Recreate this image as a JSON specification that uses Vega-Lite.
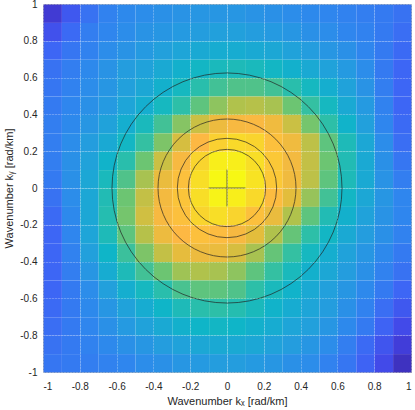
{
  "$schema": "https://vega.github.io/schema/vega-lite/v6.json",
  "width": 368,
  "height": 368,
  "autosize": {"type": "none"},
  "padding": {"left": 43, "top": 4, "right": 4, "bottom": 38},
  "background": "#ffffff",
  "config": {
    "view": {"stroke": "#a6a6a6", "strokeWidth": 1},
    "font": "Liberation Sans",
    "axis": {
      "labelFont": "Liberation Sans",
      "labelFontSize": 10,
      "labelColor": "#262626",
      "titleFont": "Liberation Sans",
      "titleFontSize": 11,
      "titleFontWeight": "normal",
      "titleColor": "#262626",
      "domain": false,
      "ticks": false,
      "grid": true,
      "gridColor": "#ffffff",
      "gridOpacity": 0.5,
      "gridDash": [1, 2],
      "gridWidth": 0.8
    }
  },
  "datasets": {
    "rings": [{"r": 0.21}, {"r": 0.27}, {"r": 0.375}, {"r": 0.625}],
    "cross": [
      {"xa": -0.1, "xb": 0.1, "ya": 0, "yb": 0},
      {"xa": 0, "xb": 0, "ya": -0.1, "yb": 0.1}
    ],
    "grid": [
{"kx":-0.95,"ky":0.95,"p":0.07},{"kx":-0.85,"ky":0.95,"p":0.16},{"kx":-0.75,"ky":0.95,"p":0.23},{"kx":-0.65,"ky":0.95,"p":0.27},{"kx":-0.55,"ky":0.95,"p":0.29},{"kx":-0.45,"ky":0.95,"p":0.3},{"kx":-0.35,"ky":0.95,"p":0.31},{"kx":-0.25,"ky":0.95,"p":0.32},{"kx":-0.15,"ky":0.95,"p":0.33},{"kx":-0.05,"ky":0.95,"p":0.33},{"kx":0.05,"ky":0.95,"p":0.33},{"kx":0.15,"ky":0.95,"p":0.32},{"kx":0.25,"ky":0.95,"p":0.31},{"kx":0.35,"ky":0.95,"p":0.3},{"kx":0.45,"ky":0.95,"p":0.29},{"kx":0.55,"ky":0.95,"p":0.28},{"kx":0.65,"ky":0.95,"p":0.27},{"kx":0.75,"ky":0.95,"p":0.26},{"kx":0.85,"ky":0.95,"p":0.25},{"kx":0.95,"ky":0.95,"p":0.23},
{"kx":-0.95,"ky":0.85,"p":0.14},{"kx":-0.85,"ky":0.85,"p":0.21},{"kx":-0.75,"ky":0.85,"p":0.26},{"kx":-0.65,"ky":0.85,"p":0.28},{"kx":-0.55,"ky":0.85,"p":0.3},{"kx":-0.45,"ky":0.85,"p":0.32},{"kx":-0.35,"ky":0.85,"p":0.33},{"kx":-0.25,"ky":0.85,"p":0.34},{"kx":-0.15,"ky":0.85,"p":0.35},{"kx":-0.05,"ky":0.85,"p":0.36},{"kx":0.05,"ky":0.85,"p":0.36},{"kx":0.15,"ky":0.85,"p":0.35},{"kx":0.25,"ky":0.85,"p":0.34},{"kx":0.35,"ky":0.85,"p":0.33},{"kx":0.45,"ky":0.85,"p":0.31},{"kx":0.55,"ky":0.85,"p":0.3},{"kx":0.65,"ky":0.85,"p":0.28},{"kx":0.75,"ky":0.85,"p":0.27},{"kx":0.85,"ky":0.85,"p":0.25},{"kx":0.95,"ky":0.85,"p":0.22},
{"kx":-0.95,"ky":0.75,"p":0.2},{"kx":-0.85,"ky":0.75,"p":0.24},{"kx":-0.75,"ky":0.75,"p":0.27},{"kx":-0.65,"ky":0.75,"p":0.3},{"kx":-0.55,"ky":0.75,"p":0.32},{"kx":-0.45,"ky":0.75,"p":0.34},{"kx":-0.35,"ky":0.75,"p":0.36},{"kx":-0.25,"ky":0.75,"p":0.38},{"kx":-0.15,"ky":0.75,"p":0.4},{"kx":-0.05,"ky":0.75,"p":0.41},{"kx":0.05,"ky":0.75,"p":0.41},{"kx":0.15,"ky":0.75,"p":0.4},{"kx":0.25,"ky":0.75,"p":0.39},{"kx":0.35,"ky":0.75,"p":0.37},{"kx":0.45,"ky":0.75,"p":0.35},{"kx":0.55,"ky":0.75,"p":0.33},{"kx":0.65,"ky":0.75,"p":0.31},{"kx":0.75,"ky":0.75,"p":0.28},{"kx":0.85,"ky":0.75,"p":0.25},{"kx":0.95,"ky":0.75,"p":0.21},
{"kx":-0.95,"ky":0.65,"p":0.23},{"kx":-0.85,"ky":0.65,"p":0.26},{"kx":-0.75,"ky":0.65,"p":0.29},{"kx":-0.65,"ky":0.65,"p":0.32},{"kx":-0.55,"ky":0.65,"p":0.35},{"kx":-0.45,"ky":0.65,"p":0.37},{"kx":-0.35,"ky":0.65,"p":0.4},{"kx":-0.25,"ky":0.65,"p":0.43},{"kx":-0.15,"ky":0.65,"p":0.46},{"kx":-0.05,"ky":0.65,"p":0.48},{"kx":0.05,"ky":0.65,"p":0.49},{"kx":0.15,"ky":0.65,"p":0.48},{"kx":0.25,"ky":0.65,"p":0.46},{"kx":0.35,"ky":0.65,"p":0.43},{"kx":0.45,"ky":0.65,"p":0.4},{"kx":0.55,"ky":0.65,"p":0.37},{"kx":0.65,"ky":0.65,"p":0.34},{"kx":0.75,"ky":0.65,"p":0.3},{"kx":0.85,"ky":0.65,"p":0.25},{"kx":0.95,"ky":0.65,"p":0.2},
{"kx":-0.95,"ky":0.55,"p":0.24},{"kx":-0.85,"ky":0.55,"p":0.27},{"kx":-0.75,"ky":0.55,"p":0.3},{"kx":-0.65,"ky":0.55,"p":0.33},{"kx":-0.55,"ky":0.55,"p":0.36},{"kx":-0.45,"ky":0.55,"p":0.39},{"kx":-0.35,"ky":0.55,"p":0.43},{"kx":-0.25,"ky":0.55,"p":0.47},{"kx":-0.15,"ky":0.55,"p":0.52},{"kx":-0.05,"ky":0.55,"p":0.56},{"kx":0.05,"ky":0.55,"p":0.58},{"kx":0.15,"ky":0.55,"p":0.58},{"kx":0.25,"ky":0.55,"p":0.56},{"kx":0.35,"ky":0.55,"p":0.52},{"kx":0.45,"ky":0.55,"p":0.47},{"kx":0.55,"ky":0.55,"p":0.42},{"kx":0.65,"ky":0.55,"p":0.37},{"kx":0.75,"ky":0.55,"p":0.32},{"kx":0.85,"ky":0.55,"p":0.26},{"kx":0.95,"ky":0.55,"p":0.2},
{"kx":-0.95,"ky":0.45,"p":0.25},{"kx":-0.85,"ky":0.45,"p":0.28},{"kx":-0.75,"ky":0.45,"p":0.31},{"kx":-0.65,"ky":0.45,"p":0.34},{"kx":-0.55,"ky":0.45,"p":0.38},{"kx":-0.45,"ky":0.45,"p":0.42},{"kx":-0.35,"ky":0.45,"p":0.47},{"kx":-0.25,"ky":0.45,"p":0.53},{"kx":-0.15,"ky":0.45,"p":0.6},{"kx":-0.05,"ky":0.45,"p":0.66},{"kx":0.05,"ky":0.45,"p":0.7},{"kx":0.15,"ky":0.45,"p":0.71},{"kx":0.25,"ky":0.45,"p":0.69},{"kx":0.35,"ky":0.45,"p":0.62},{"kx":0.45,"ky":0.45,"p":0.54},{"kx":0.55,"ky":0.45,"p":0.47},{"kx":0.65,"ky":0.45,"p":0.4},{"kx":0.75,"ky":0.45,"p":0.34},{"kx":0.85,"ky":0.45,"p":0.27},{"kx":0.95,"ky":0.45,"p":0.2},
{"kx":-0.95,"ky":0.35,"p":0.26},{"kx":-0.85,"ky":0.35,"p":0.29},{"kx":-0.75,"ky":0.35,"p":0.33},{"kx":-0.65,"ky":0.35,"p":0.37},{"kx":-0.55,"ky":0.35,"p":0.42},{"kx":-0.45,"ky":0.35,"p":0.48},{"kx":-0.35,"ky":0.35,"p":0.56},{"kx":-0.25,"ky":0.35,"p":0.65},{"kx":-0.15,"ky":0.35,"p":0.74},{"kx":-0.05,"ky":0.35,"p":0.81},{"kx":0.05,"ky":0.35,"p":0.84},{"kx":0.15,"ky":0.35,"p":0.85},{"kx":0.25,"ky":0.35,"p":0.82},{"kx":0.35,"ky":0.35,"p":0.74},{"kx":0.45,"ky":0.35,"p":0.63},{"kx":0.55,"ky":0.35,"p":0.53},{"kx":0.65,"ky":0.35,"p":0.44},{"kx":0.75,"ky":0.35,"p":0.36},{"kx":0.85,"ky":0.35,"p":0.28},{"kx":0.95,"ky":0.35,"p":0.21},
{"kx":-0.95,"ky":0.25,"p":0.26},{"kx":-0.85,"ky":0.25,"p":0.3},{"kx":-0.75,"ky":0.25,"p":0.35},{"kx":-0.65,"ky":0.25,"p":0.4},{"kx":-0.55,"ky":0.25,"p":0.46},{"kx":-0.45,"ky":0.25,"p":0.54},{"kx":-0.35,"ky":0.25,"p":0.64},{"kx":-0.25,"ky":0.25,"p":0.76},{"kx":-0.15,"ky":0.25,"p":0.86},{"kx":-0.05,"ky":0.25,"p":0.92},{"kx":0.05,"ky":0.25,"p":0.94},{"kx":0.15,"ky":0.25,"p":0.93},{"kx":0.25,"ky":0.25,"p":0.88},{"kx":0.35,"ky":0.25,"p":0.82},{"kx":0.45,"ky":0.25,"p":0.72},{"kx":0.55,"ky":0.25,"p":0.6},{"kx":0.65,"ky":0.25,"p":0.49},{"kx":0.75,"ky":0.25,"p":0.39},{"kx":0.85,"ky":0.25,"p":0.3},{"kx":0.95,"ky":0.25,"p":0.22},
{"kx":-0.95,"ky":0.15,"p":0.26},{"kx":-0.85,"ky":0.15,"p":0.31},{"kx":-0.75,"ky":0.15,"p":0.37},{"kx":-0.65,"ky":0.15,"p":0.44},{"kx":-0.55,"ky":0.15,"p":0.52},{"kx":-0.45,"ky":0.15,"p":0.62},{"kx":-0.35,"ky":0.15,"p":0.74},{"kx":-0.25,"ky":0.15,"p":0.84},{"kx":-0.15,"ky":0.15,"p":0.93},{"kx":-0.05,"ky":0.15,"p":0.98},{"kx":0.05,"ky":0.15,"p":0.98},{"kx":0.15,"ky":0.15,"p":0.95},{"kx":0.25,"ky":0.15,"p":0.9},{"kx":0.35,"ky":0.15,"p":0.83},{"kx":0.45,"ky":0.15,"p":0.73},{"kx":0.55,"ky":0.15,"p":0.62},{"kx":0.65,"ky":0.15,"p":0.5},{"kx":0.75,"ky":0.15,"p":0.4},{"kx":0.85,"ky":0.15,"p":0.31},{"kx":0.95,"ky":0.15,"p":0.24},
{"kx":-0.95,"ky":0.05,"p":0.25},{"kx":-0.85,"ky":0.05,"p":0.31},{"kx":-0.75,"ky":0.05,"p":0.39},{"kx":-0.65,"ky":0.05,"p":0.48},{"kx":-0.55,"ky":0.05,"p":0.58},{"kx":-0.45,"ky":0.05,"p":0.69},{"kx":-0.35,"ky":0.05,"p":0.8},{"kx":-0.25,"ky":0.05,"p":0.88},{"kx":-0.15,"ky":0.05,"p":0.95},{"kx":-0.05,"ky":0.05,"p":1.0},{"kx":0.05,"ky":0.05,"p":1.0},{"kx":0.15,"ky":0.05,"p":0.96},{"kx":0.25,"ky":0.05,"p":0.9},{"kx":0.35,"ky":0.05,"p":0.82},{"kx":0.45,"ky":0.05,"p":0.72},{"kx":0.55,"ky":0.05,"p":0.6},{"kx":0.65,"ky":0.05,"p":0.49},{"kx":0.75,"ky":0.05,"p":0.4},{"kx":0.85,"ky":0.05,"p":0.32},{"kx":0.95,"ky":0.05,"p":0.26},
{"kx":-0.95,"ky":-0.05,"p":0.23},{"kx":-0.85,"ky":-0.05,"p":0.3},{"kx":-0.75,"ky":-0.05,"p":0.39},{"kx":-0.65,"ky":-0.05,"p":0.5},{"kx":-0.55,"ky":-0.05,"p":0.62},{"kx":-0.45,"ky":-0.05,"p":0.73},{"kx":-0.35,"ky":-0.05,"p":0.83},{"kx":-0.25,"ky":-0.05,"p":0.89},{"kx":-0.15,"ky":-0.05,"p":0.95},{"kx":-0.05,"ky":-0.05,"p":0.99},{"kx":0.05,"ky":-0.05,"p":0.98},{"kx":0.15,"ky":-0.05,"p":0.94},{"kx":0.25,"ky":-0.05,"p":0.87},{"kx":0.35,"ky":-0.05,"p":0.78},{"kx":0.45,"ky":-0.05,"p":0.67},{"kx":0.55,"ky":-0.05,"p":0.56},{"kx":0.65,"ky":-0.05,"p":0.46},{"kx":0.75,"ky":-0.05,"p":0.39},{"kx":0.85,"ky":-0.05,"p":0.33},{"kx":0.95,"ky":-0.05,"p":0.28},
{"kx":-0.95,"ky":-0.15,"p":0.21},{"kx":-0.85,"ky":-0.15,"p":0.29},{"kx":-0.75,"ky":-0.15,"p":0.39},{"kx":-0.65,"ky":-0.15,"p":0.51},{"kx":-0.55,"ky":-0.15,"p":0.63},{"kx":-0.45,"ky":-0.15,"p":0.75},{"kx":-0.35,"ky":-0.15,"p":0.84},{"kx":-0.25,"ky":-0.15,"p":0.88},{"kx":-0.15,"ky":-0.15,"p":0.93},{"kx":-0.05,"ky":-0.15,"p":0.95},{"kx":0.05,"ky":-0.15,"p":0.93},{"kx":0.15,"ky":-0.15,"p":0.88},{"kx":0.25,"ky":-0.15,"p":0.8},{"kx":0.35,"ky":-0.15,"p":0.7},{"kx":0.45,"ky":-0.15,"p":0.6},{"kx":0.55,"ky":-0.15,"p":0.5},{"kx":0.65,"ky":-0.15,"p":0.43},{"kx":0.75,"ky":-0.15,"p":0.37},{"kx":0.85,"ky":-0.15,"p":0.32},{"kx":0.95,"ky":-0.15,"p":0.28},
{"kx":-0.95,"ky":-0.25,"p":0.2},{"kx":-0.85,"ky":-0.25,"p":0.28},{"kx":-0.75,"ky":-0.25,"p":0.38},{"kx":-0.65,"ky":-0.25,"p":0.49},{"kx":-0.55,"ky":-0.25,"p":0.6},{"kx":-0.45,"ky":-0.25,"p":0.71},{"kx":-0.35,"ky":-0.25,"p":0.81},{"kx":-0.25,"ky":-0.25,"p":0.86},{"kx":-0.15,"ky":-0.25,"p":0.88},{"kx":-0.05,"ky":-0.25,"p":0.87},{"kx":0.05,"ky":-0.25,"p":0.84},{"kx":0.15,"ky":-0.25,"p":0.78},{"kx":0.25,"ky":-0.25,"p":0.7},{"kx":0.35,"ky":-0.25,"p":0.61},{"kx":0.45,"ky":-0.25,"p":0.53},{"kx":0.55,"ky":-0.25,"p":0.46},{"kx":0.65,"ky":-0.25,"p":0.4},{"kx":0.75,"ky":-0.25,"p":0.35},{"kx":0.85,"ky":-0.25,"p":0.31},{"kx":0.95,"ky":-0.25,"p":0.27},
{"kx":-0.95,"ky":-0.35,"p":0.2},{"kx":-0.85,"ky":-0.35,"p":0.27},{"kx":-0.75,"ky":-0.35,"p":0.36},{"kx":-0.65,"ky":-0.35,"p":0.45},{"kx":-0.55,"ky":-0.35,"p":0.55},{"kx":-0.45,"ky":-0.35,"p":0.64},{"kx":-0.35,"ky":-0.35,"p":0.73},{"kx":-0.25,"ky":-0.35,"p":0.79},{"kx":-0.15,"ky":-0.35,"p":0.81},{"kx":-0.05,"ky":-0.35,"p":0.8},{"kx":0.05,"ky":-0.35,"p":0.76},{"kx":0.15,"ky":-0.35,"p":0.69},{"kx":0.25,"ky":-0.35,"p":0.61},{"kx":0.35,"ky":-0.35,"p":0.54},{"kx":0.45,"ky":-0.35,"p":0.47},{"kx":0.55,"ky":-0.35,"p":0.42},{"kx":0.65,"ky":-0.35,"p":0.37},{"kx":0.75,"ky":-0.35,"p":0.33},{"kx":0.85,"ky":-0.35,"p":0.29},{"kx":0.95,"ky":-0.35,"p":0.25},
{"kx":-0.95,"ky":-0.45,"p":0.2},{"kx":-0.85,"ky":-0.45,"p":0.26},{"kx":-0.75,"ky":-0.45,"p":0.33},{"kx":-0.65,"ky":-0.45,"p":0.41},{"kx":-0.55,"ky":-0.45,"p":0.49},{"kx":-0.45,"ky":-0.45,"p":0.56},{"kx":-0.35,"ky":-0.45,"p":0.62},{"kx":-0.25,"ky":-0.45,"p":0.68},{"kx":-0.15,"ky":-0.45,"p":0.7},{"kx":-0.05,"ky":-0.45,"p":0.69},{"kx":0.05,"ky":-0.45,"p":0.66},{"kx":0.15,"ky":-0.45,"p":0.6},{"kx":0.25,"ky":-0.45,"p":0.54},{"kx":0.35,"ky":-0.45,"p":0.48},{"kx":0.45,"ky":-0.45,"p":0.43},{"kx":0.55,"ky":-0.45,"p":0.39},{"kx":0.65,"ky":-0.45,"p":0.35},{"kx":0.75,"ky":-0.45,"p":0.31},{"kx":0.85,"ky":-0.45,"p":0.27},{"kx":0.95,"ky":-0.45,"p":0.23},
{"kx":-0.95,"ky":-0.55,"p":0.2},{"kx":-0.85,"ky":-0.55,"p":0.25},{"kx":-0.75,"ky":-0.55,"p":0.3},{"kx":-0.65,"ky":-0.55,"p":0.36},{"kx":-0.55,"ky":-0.55,"p":0.42},{"kx":-0.45,"ky":-0.55,"p":0.47},{"kx":-0.35,"ky":-0.55,"p":0.52},{"kx":-0.25,"ky":-0.55,"p":0.57},{"kx":-0.15,"ky":-0.55,"p":0.6},{"kx":-0.05,"ky":-0.55,"p":0.6},{"kx":0.05,"ky":-0.55,"p":0.58},{"kx":0.15,"ky":-0.55,"p":0.53},{"kx":0.25,"ky":-0.55,"p":0.48},{"kx":0.35,"ky":-0.55,"p":0.44},{"kx":0.45,"ky":-0.55,"p":0.4},{"kx":0.55,"ky":-0.55,"p":0.36},{"kx":0.65,"ky":-0.55,"p":0.33},{"kx":0.75,"ky":-0.55,"p":0.29},{"kx":0.85,"ky":-0.55,"p":0.25},{"kx":0.95,"ky":-0.55,"p":0.2},
{"kx":-0.95,"ky":-0.65,"p":0.21},{"kx":-0.85,"ky":-0.65,"p":0.25},{"kx":-0.75,"ky":-0.65,"p":0.29},{"kx":-0.65,"ky":-0.65,"p":0.33},{"kx":-0.55,"ky":-0.65,"p":0.37},{"kx":-0.45,"ky":-0.65,"p":0.41},{"kx":-0.35,"ky":-0.65,"p":0.45},{"kx":-0.25,"ky":-0.65,"p":0.49},{"kx":-0.15,"ky":-0.65,"p":0.52},{"kx":-0.05,"ky":-0.65,"p":0.53},{"kx":0.05,"ky":-0.65,"p":0.51},{"kx":0.15,"ky":-0.65,"p":0.48},{"kx":0.25,"ky":-0.65,"p":0.44},{"kx":0.35,"ky":-0.65,"p":0.41},{"kx":0.45,"ky":-0.65,"p":0.38},{"kx":0.55,"ky":-0.65,"p":0.35},{"kx":0.65,"ky":-0.65,"p":0.31},{"kx":0.75,"ky":-0.65,"p":0.27},{"kx":0.85,"ky":-0.65,"p":0.22},{"kx":0.95,"ky":-0.65,"p":0.16},
{"kx":-0.95,"ky":-0.75,"p":0.22},{"kx":-0.85,"ky":-0.75,"p":0.25},{"kx":-0.75,"ky":-0.75,"p":0.28},{"kx":-0.65,"ky":-0.75,"p":0.31},{"kx":-0.55,"ky":-0.75,"p":0.34},{"kx":-0.45,"ky":-0.75,"p":0.37},{"kx":-0.35,"ky":-0.75,"p":0.4},{"kx":-0.25,"ky":-0.75,"p":0.43},{"kx":-0.15,"ky":-0.75,"p":0.45},{"kx":-0.05,"ky":-0.75,"p":0.46},{"kx":0.05,"ky":-0.75,"p":0.45},{"kx":0.15,"ky":-0.75,"p":0.43},{"kx":0.25,"ky":-0.75,"p":0.41},{"kx":0.35,"ky":-0.75,"p":0.38},{"kx":0.45,"ky":-0.75,"p":0.36},{"kx":0.55,"ky":-0.75,"p":0.33},{"kx":0.65,"ky":-0.75,"p":0.29},{"kx":0.75,"ky":-0.75,"p":0.25},{"kx":0.85,"ky":-0.75,"p":0.19},{"kx":0.95,"ky":-0.75,"p":0.12},
{"kx":-0.95,"ky":-0.85,"p":0.23},{"kx":-0.85,"ky":-0.85,"p":0.25},{"kx":-0.75,"ky":-0.85,"p":0.27},{"kx":-0.65,"ky":-0.85,"p":0.29},{"kx":-0.55,"ky":-0.85,"p":0.31},{"kx":-0.45,"ky":-0.85,"p":0.33},{"kx":-0.35,"ky":-0.85,"p":0.35},{"kx":-0.25,"ky":-0.85,"p":0.37},{"kx":-0.15,"ky":-0.85,"p":0.39},{"kx":-0.05,"ky":-0.85,"p":0.4},{"kx":0.05,"ky":-0.85,"p":0.4},{"kx":0.15,"ky":-0.85,"p":0.39},{"kx":0.25,"ky":-0.85,"p":0.37},{"kx":0.35,"ky":-0.85,"p":0.35},{"kx":0.45,"ky":-0.85,"p":0.33},{"kx":0.55,"ky":-0.85,"p":0.3},{"kx":0.65,"ky":-0.85,"p":0.26},{"kx":0.75,"ky":-0.85,"p":0.21},{"kx":0.85,"ky":-0.85,"p":0.15},{"kx":0.95,"ky":-0.85,"p":0.08},
{"kx":-0.95,"ky":-0.95,"p":0.24},{"kx":-0.85,"ky":-0.95,"p":0.25},{"kx":-0.75,"ky":-0.95,"p":0.26},{"kx":-0.65,"ky":-0.95,"p":0.27},{"kx":-0.55,"ky":-0.95,"p":0.28},{"kx":-0.45,"ky":-0.95,"p":0.3},{"kx":-0.35,"ky":-0.95,"p":0.31},{"kx":-0.25,"ky":-0.95,"p":0.33},{"kx":-0.15,"ky":-0.95,"p":0.34},{"kx":-0.05,"ky":-0.95,"p":0.35},{"kx":0.05,"ky":-0.95,"p":0.35},{"kx":0.15,"ky":-0.95,"p":0.34},{"kx":0.25,"ky":-0.95,"p":0.33},{"kx":0.35,"ky":-0.95,"p":0.31},{"kx":0.45,"ky":-0.95,"p":0.3},{"kx":0.55,"ky":-0.95,"p":0.27},{"kx":0.65,"ky":-0.95,"p":0.24},{"kx":0.75,"ky":-0.95,"p":0.19},{"kx":0.85,"ky":-0.95,"p":0.12},{"kx":0.95,"ky":-0.95,"p":0.04}
    ]
  },
  "layer": [
    {
      "data": {"name": "grid"},
      "mark": {"type": "rect"},
      "encoding": {
        "x": {
          "field": "kx", "type": "quantitative",
          "bin": {"extent": [-1, 1], "step": 0.1},
          "scale": {"domain": [-1, 1], "nice": false, "zero": false},
          "axis": {
            "values": [-1, -0.8, -0.6, -0.4, -0.2, 0, 0.2, 0.4, 0.6, 0.8, 1],
            "labelExpr": "'' + datum.value",
            "labelPadding": 9,
            "titlePadding": 4,
            "zindex": 1
          },
          "title": "Wavenumber kₓ [rad/km]"
        },
        "y": {
          "field": "ky", "type": "quantitative",
          "bin": {"extent": [-1, 1], "step": 0.1},
          "scale": {"domain": [-1, 1], "nice": false, "zero": false},
          "axis": {
            "values": [-1, -0.8, -0.6, -0.4, -0.2, 0, 0.2, 0.4, 0.6, 0.8, 1],
            "labelExpr": "'' + datum.value",
            "labelPadding": 6,
            "titlePadding": 5,
            "zindex": 1
          },
          "title": "Wavenumber kᵧ [rad/km]"
        },
        "color": {
          "field": "p", "type": "quantitative",
          "scale": {
            "domain": [0, 0.1, 0.2, 0.28, 0.36, 0.45, 0.53, 0.62, 0.7, 0.78, 0.86, 0.93, 1],
            "range": ["#3b27a6", "#4343e6", "#3d66f5", "#2f86ee", "#22a0dc", "#0fb5c8", "#2dbfa8", "#6cc572", "#b0c24c", "#e3bd3c", "#fdb843", "#f9d42e", "#f7f814"],
            "interpolate": "rgb"
          },
          "legend": null
        }
      }
    },
    {
      "data": {"name": "rings"},
      "mark": {"type": "point", "shape": "circle", "filled": false, "stroke": "#222222", "strokeWidth": 0.8, "opacity": 0.85},
      "encoding": {
        "x": {"datum": 0, "type": "quantitative"},
        "y": {"datum": 0, "type": "quantitative"},
        "size": {
          "field": "r", "type": "quantitative",
          "scale": {"type": "pow", "exponent": 2, "domain": [0, 1], "range": [0, 135424]},
          "legend": null
        }
      }
    },
    {
      "data": {"name": "cross"},
      "mark": {"type": "rule", "stroke": "#3a3a3a", "strokeWidth": 1, "opacity": 0.75},
      "encoding": {
        "x": {"field": "xa", "type": "quantitative"},
        "x2": {"field": "xb"},
        "y": {"field": "ya", "type": "quantitative"},
        "y2": {"field": "yb"}
      }
    }
  ]
}
